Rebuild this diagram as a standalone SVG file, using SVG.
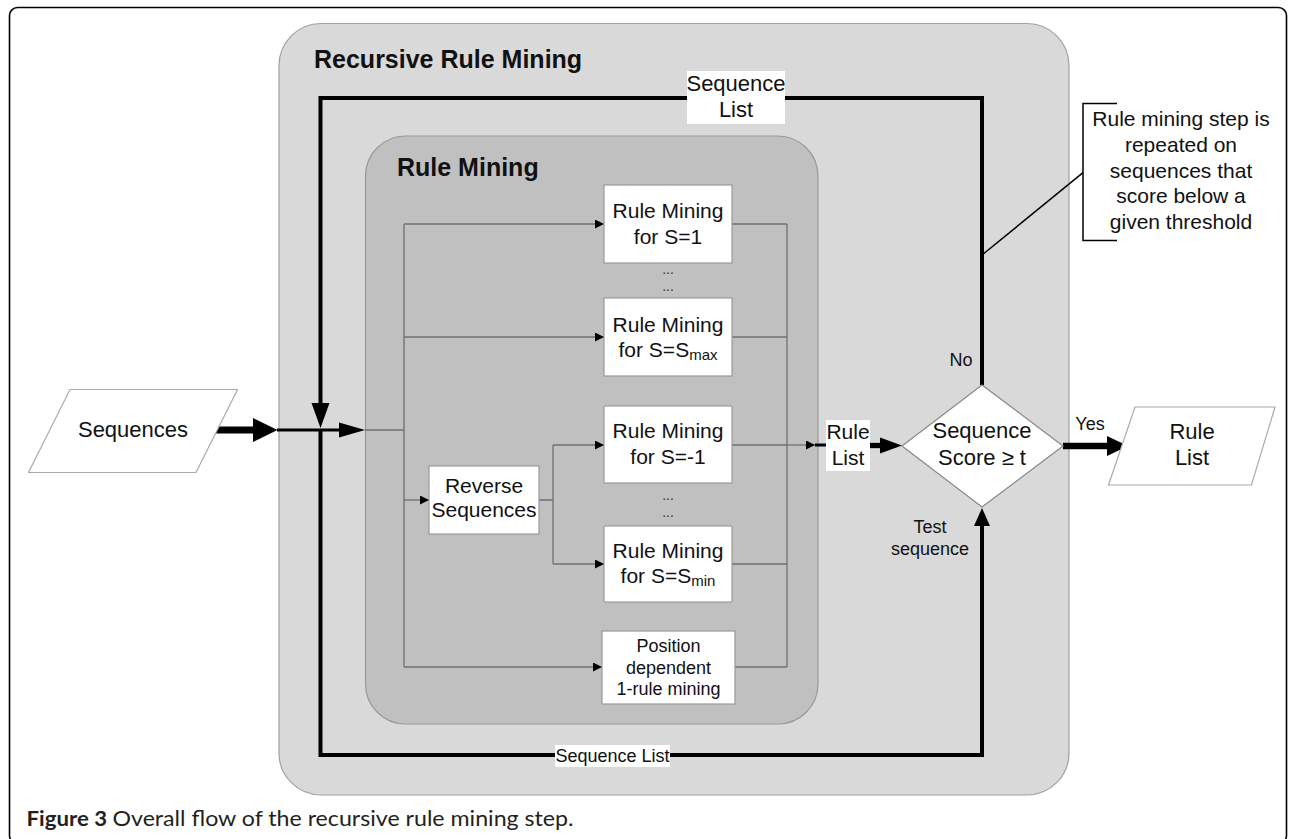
<svg xmlns="http://www.w3.org/2000/svg" width="1290" height="839" viewBox="0 0 1290 839">
<defs>
<marker id="ah" viewBox="0 0 10 10" refX="10" refY="5" markerWidth="11" markerHeight="9" markerUnits="userSpaceOnUse" orient="auto">
<path d="M0,0 L10,5 L0,10 Z" fill="#000"/>
</marker>
</defs>
<style>
text{font-family:"Liberation Sans",Arial,Helvetica,sans-serif;fill:#111;}
.t21{font-size:21px;text-anchor:middle;}
.t22{font-size:22px;text-anchor:middle;}
.t18{font-size:18px;text-anchor:middle;}
.title{font-size:25px;font-weight:bold;}
.box{fill:#fff;stroke:#9a9a9a;stroke-width:1.2;}
.thin{fill:none;stroke:#707070;stroke-width:1.3;}
.thick{fill:none;stroke:#000;}
.lbl{fill:#fff;stroke:none;}
.dots{font-size:14px;text-anchor:middle;fill:#333;}
</style>
<rect id="frame" x="9.5" y="7.5" width="1277" height="836" rx="8" fill="#fff" stroke="#000" stroke-width="1.6"/>

<g id="recursive">
<rect x="279" y="23.5" width="790" height="771.5" rx="42" fill="#d9d9d9" stroke="#a0a0a0" stroke-width="1.2"/>
<text class="title" x="314" y="68">Recursive Rule Mining</text>
</g>
<g id="rulemining">
<rect x="365.5" y="136" width="452.5" height="588" rx="40" fill="#c0c0c0" stroke="#999" stroke-width="1.2"/>
<text class="title" x="397" y="176">Rule Mining</text>
</g>

<g id="connectors">
<!-- thin internal connectors -->
<path class="thin" d="M365,430 H404 M404,224 V667 M539,500 H553 M553,445 V564 M787,224 V667"/>
<path class="thin" d="M404,224 H604" marker-end="url(#ah)"/>
<path class="thin" d="M404,337 H604" marker-end="url(#ah)"/>
<path class="thin" d="M404,500 H429" marker-end="url(#ah)"/>
<path class="thin" d="M404,667 H602" marker-end="url(#ah)"/>
<path class="thin" d="M553,445 H604" marker-end="url(#ah)"/>
<path class="thin" d="M553,564 H604" marker-end="url(#ah)"/>
<path class="thin" d="M732,224 H787 M732,337 H787 M732,564 H787 M735,667 H787 M732,445 H787"/>
<path class="thin" d="M787,445 H815" marker-end="url(#ah)"/>
<path d="M815,445 H826" stroke="#000" stroke-width="3"/>
<!-- input arrows -->
<path d="M216,430 H254" stroke="#000" stroke-width="7"/>
<polygon points="253,418 277.5,430 253,442" fill="#000"/>
<path d="M277,430 H340" stroke="#000" stroke-width="3"/>
<polygon points="339,422.5 365,430 339,437.5" fill="#000"/>
<!-- recursion loop top -->
<path class="thick" d="M982,385 V98 H320.5 V405" stroke-width="4"/>
<polygon points="311.5,403 329.5,403 320.5,428" fill="#000"/>
<!-- loop bottom -->
<path class="thick" d="M320.5,430 V755 H982 V525" stroke-width="4"/>
<polygon points="974,526 990,526 982,508" fill="#000"/>
<!-- rule list to diamond -->
<path d="M870,445.5 H881" stroke="#000" stroke-width="5.3"/>
<polygon points="880,437.5 902,445.5 880,453.5" fill="#000"/>
<!-- yes arrow -->
<path d="M1063,446 H1108" stroke="#000" stroke-width="6.5"/>
<polygon points="1107,436 1128,446 1107,456" fill="#000"/>
<!-- annotation -->
<path d="M982,255 L1083,172.7" stroke="#000" stroke-width="1.5" fill="none"/>
<path d="M1117,103.5 H1083 V240.5 H1117" stroke="#000" stroke-width="1.5" fill="none"/>
</g>

<g id="lbl-seqlist-top">
<rect class="lbl" x="687" y="71" width="98" height="53"/>
<text class="t22" x="736" y="90.7">Sequence</text>
<text class="t22" x="736" y="117">List</text>
</g>
<g id="lbl-seqlist-bottom">
<rect class="lbl" x="555" y="745" width="115" height="22"/>
<text class="t18" x="612.5" y="761.5">Sequence List</text>
</g>
<g id="lbl-rulelist">
<rect class="lbl" x="826" y="420" width="44" height="51"/>
<text class="t21" x="848" y="439">Rule</text>
<text class="t21" x="848" y="465">List</text>
</g>

<g id="sequences">
<polygon points="70,389.5 237.5,389.5 196,472.5 28.5,472.5" fill="#fff" stroke="#aaa" stroke-width="1.2"/>
<text class="t22" x="133" y="437">Sequences</text>
</g>

<g id="rm-s1">
<rect class="box" x="604" y="185" width="128" height="78"/>
<text class="t21" x="668" y="218">Rule Mining</text>
<text class="t21" x="668" y="244">for S=1</text>
</g>
<text class="dots" x="668" y="274">...</text>
<text class="dots" x="668" y="291">...</text>
<g id="rm-smax">
<rect class="box" x="604" y="298" width="128" height="78"/>
<text class="t21" x="668" y="331.7">Rule Mining</text>
<text class="t21" x="668" y="356.7">for S=S<tspan font-size="15" dy="3">max</tspan></text>
</g>
<g id="rm-sm1">
<rect class="box" x="604" y="406" width="128" height="77"/>
<text class="t21" x="668" y="438">Rule Mining</text>
<text class="t21" x="668" y="464">for S=-1</text>
</g>
<text class="dots" x="668" y="500">...</text>
<text class="dots" x="668" y="517">...</text>
<g id="rm-smin">
<rect class="box" x="604" y="526" width="128" height="76"/>
<text class="t21" x="668" y="558">Rule Mining</text>
<text class="t21" x="668" y="583">for S=S<tspan font-size="15" dy="3">min</tspan></text>
</g>
<g id="reverse">
<rect class="box" x="429" y="466" width="110" height="68"/>
<text class="t21" x="484" y="493">Reverse</text>
<text class="t21" x="484" y="517">Sequences</text>
</g>
<g id="position">
<rect class="box" x="602" y="631" width="133" height="73"/>
<text class="t18" x="668.5" y="652">Position</text>
<text class="t18" x="668.5" y="673.5">dependent</text>
<text class="t18" x="668.5" y="695">1-rule mining</text>
</g>

<g id="decision">
<polygon points="982,385 1063,446 982,507 902,446" fill="#fff" stroke="#888" stroke-width="1.2"/>
<text class="t22" x="982" y="438">Sequence</text>
<text class="t22" x="982" y="465">Score  ≥ t</text>
</g>
<text class="t18" x="961" y="366">No</text>
<text class="t18" x="1090" y="430">Yes</text>
<text class="t18" x="930" y="533">Test</text>
<text class="t18" x="930" y="555">sequence</text>

<g id="rulelist-out">
<polygon points="1135,407 1275,407 1251.5,485 1108.5,485" fill="#fff" stroke="#aaa" stroke-width="1.2"/>
<text class="t22" x="1192" y="439">Rule</text>
<text class="t22" x="1192" y="465">List</text>
</g>

<g id="annotation">
<text class="t21" x="1181" y="126">Rule mining step is</text>
<text class="t21" x="1181" y="151.7">repeated on</text>
<text class="t21" x="1181" y="177.7">sequences that</text>
<text class="t21" x="1181" y="203.3">score below a</text>
<text class="t21" x="1181" y="229.3">given threshold</text>
</g>

<g id="caption">
<text x="26.5" y="826" style="font-family:Lato,'Liberation Sans',sans-serif;font-size:21px;font-weight:bold;fill:#231f20" textLength="80.5" lengthAdjust="spacingAndGlyphs">Figure 3</text>
<text x="112.5" y="826" style="font-family:Lato,'Liberation Sans',sans-serif;font-size:21px;fill:#231f20" textLength="461" lengthAdjust="spacingAndGlyphs">Overall flow of the recursive rule mining step.</text>
</g>
</svg>
